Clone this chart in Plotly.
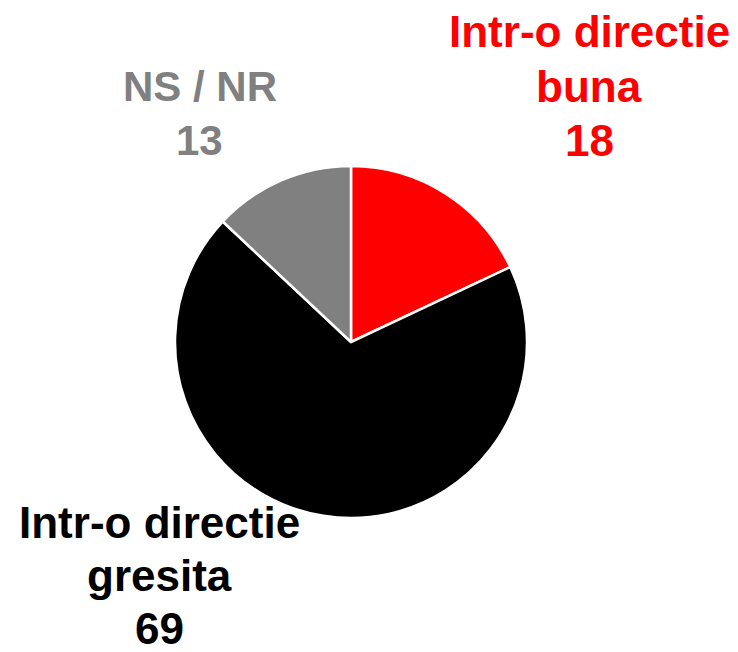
import plotly.graph_objects as go

labels = ["Intr-o directie buna", "Intr-o directie gresita", "NS / NR"]
label_lines = [["Intr-o directie", "buna"], ["Intr-o directie", "gresita"], ["NS / NR"]]
values = [18, 69, 13]
colors = ["#ff0000", "#000000", "#808080"]

W, H = 738, 652
cx, cy, r = 351, 342, 176

fig = go.Figure(go.Pie(
    labels=labels, values=values, sort=False, direction="clockwise", rotation=0,
    marker=dict(colors=colors, line=dict(color="white", width=2.5)),
    textinfo="none", hoverinfo="label+value", showlegend=False,
    domain=dict(x=[(cx - r) / W, (cx + r) / W], y=[(H - cy - r) / H, (H - cy + r) / H]),
))

# label block positions (center x, first-line y in pixels from top, font size, line gap)
positions = [(589, 31, 44, 55), (159, 522, 44, 53), (200, 86, 42, 55)]
annotations = []
for lines, val, col, (px, py, fs, gap) in zip(label_lines, values, colors, positions):
    for i, t in enumerate(lines + [str(val)]):
        annotations.append(dict(
            x=px / W, y=1 - (py + i * gap) / H, xref="paper", yref="paper",
            text=t, showarrow=False, xanchor="center", yanchor="middle",
            font=dict(family="Liberation Sans, Arial, sans-serif", size=fs, color=col, weight="bold"),
        ))

fig.update_layout(
    width=W, height=H, margin=dict(l=0, r=0, t=0, b=0),
    paper_bgcolor="white", plot_bgcolor="white",
    annotations=annotations,
)
fig.write_html("out.html", config={"displayModeBar": False},
               post_script="document.body.style.margin='0';")
